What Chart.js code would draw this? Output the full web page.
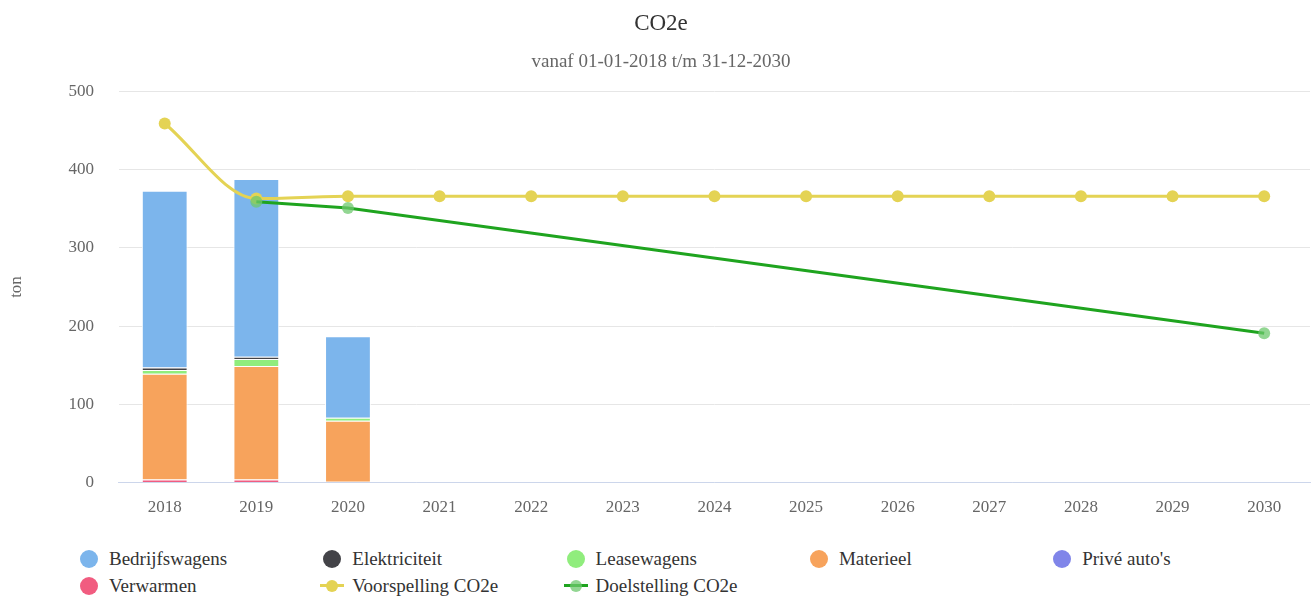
<!DOCTYPE html>
<html lang="nl">
<head>
<meta charset="UTF-8">
<title>CO2e</title>
<script src="https://cdn.jsdelivr.net/npm/chart.js"></script>
<style>
    body { margin: 0; background: #fff; overflow: hidden; font-family: "Liberation Serif", serif; }
    #wrap { position: relative; width: 1316px; height: 530px; }
    #legend { position: absolute; left: 0; top: 540px; width: 1311px; height: 58px; }
    .item { position: absolute; display: flex; align-items: center; font-size: 19px; color: #333; white-space: nowrap; height: 24px; }
    .sym { position: relative; width: 24px; height: 24px; margin-right: 8px; }
    .dot { position: absolute; left: 3px; top: 3px; width: 18px; height: 18px; border-radius: 50%; }
    .ln { position: absolute; left: 0; top: 10px; width: 24px; height: 3px; }
    .ldot { position: absolute; left: 6px; top: 6px; width: 12px; height: 12px; border-radius: 50%; }
</style>
</head>
<body>
<div id="wrap"><canvas id="co2Chart"></canvas></div>
<div id="legend"></div>

<script>
    // categorieen
    const jaren = ['2018', '2019', '2020', '2021', '2022', '2023', '2024', '2025', '2026', '2027', '2028', '2029', '2030'];

    // gestapelde kolommen (ton)
    const bedrijfswagens = [226, 227, 104];
    const elektriciteit = [3, 3, 0];
    const leasewagens = [5, 9, 4];
    const materieel = [135, 145, 78];
    const priveAutos = [0, 0, 0];
    const verwarmen = [4, 4, 1];

    // lijnen (ton)
    const voorspelling = [459, 363, 366, 366, 366, 366, 366, 366, 366, 366, 366, 366, 366];
    const doelstelling = [null, 359, 351, null, null, null, null, null, null, null, null, null, 191];

    const yTicks = [0, 100, 200, 300, 400, 500];

    const FONT = '"Liberation Serif", "Times New Roman", serif';

    const kleuren = {
        bedrijfswagens: '#7cb5ec',
        elektriciteit: '#434348',
        leasewagens: '#90ed7d',
        materieel: '#f7a35c',
        prive: '#8085e9',
        verwarmen: '#f15c80',
        voorspelling: '#e4d354',
        doelLijn: '#1fa41f',
        doelPunt: 'rgba(110, 200, 110, 0.75)'
    };

    function staaf(label, data, kleur) {
        return {
            type: 'bar', label: label, data: data,
            backgroundColor: kleur, borderColor: '#ffffff', borderWidth: 1,
            categoryPercentage: 1, barPercentage: 0.5, order: 2
        };
    }

    // volgorde van onder naar boven in de stapel
    const datasets = [
        staaf('Verwarmen', verwarmen, kleuren.verwarmen),
        staaf("Privé auto's", priveAutos, kleuren.prive),
        staaf('Materieel', materieel, kleuren.materieel),
        staaf('Leasewagens', leasewagens, kleuren.leasewagens),
        staaf('Elektriciteit', elektriciteit, kleuren.elektriciteit),
        staaf('Bedrijfswagens', bedrijfswagens, kleuren.bedrijfswagens),
        {
            type: 'line', label: 'Voorspelling CO2e', data: voorspelling, stack: 'voorspelling',
            borderColor: kleuren.voorspelling, borderWidth: 3, backgroundColor: kleuren.voorspelling,
            pointBackgroundColor: kleuren.voorspelling, pointBorderWidth: 0, pointRadius: 6,
            cubicInterpolationMode: 'monotone', fill: false, order: 1
        },
        {
            type: 'line', label: 'Doelstelling CO2e', data: doelstelling, stack: 'doel',
            borderColor: kleuren.doelLijn, borderWidth: 3, backgroundColor: kleuren.doelPunt,
            pointBackgroundColor: kleuren.doelPunt, pointBorderWidth: 0, pointRadius: 6,
            tension: 0, spanGaps: true, fill: false, order: 0
        }
    ];

    const ctx = document.getElementById('co2Chart').getContext('2d');
    const chart = new Chart(ctx, {
        data: { labels: jaren, datasets: datasets },
        options: {
            responsive: true,
            maintainAspectRatio: false,
            animation: false,
            layout: { padding: { left: 6, right: 0, top: 0, bottom: 5 } },
            plugins: {
                legend: { display: false },
                tooltip: { enabled: false },
                title: {
                    display: true, text: 'CO2e', color: '#333333',
                    font: { family: FONT, size: 23, weight: 'normal' },
                    padding: { top: 10, bottom: 13 }
                },
                subtitle: {
                    display: true, text: 'vanaf 01-01-2018 t/m 31-12-2030', color: '#666666',
                    font: { family: FONT, size: 19, weight: 'normal' },
                    padding: { top: 0, bottom: 18 }
                }
            },
            scales: {
                x: {
                    stacked: true,
                    grid: { display: false },
                    border: { color: '#ccd6eb', width: 1 },
                    ticks: { color: '#666666', font: { family: FONT, size: 17 }, padding: 7 }
                },
                y: {
                    stacked: true,
                    min: 0, max: 500,
                    afterBuildTicks: (scale) => { scale.ticks = yTicks.map(v => ({ value: v })); },
                    grid: { color: '#e6e6e6', drawTicks: false },
                    border: { display: false },
                    ticks: { color: '#666666', font: { family: FONT, size: 17 }, padding: 25 },
                    title: {
                        display: true, text: 'ton', color: '#666666',
                        font: { family: FONT, size: 17 },
                        padding: { top: 0, bottom: 17 }
                    }
                }
            }
        }
    });

    // legenda in vaste kolommen, zoals het origineel
    const legendaVolgorde = ['Bedrijfswagens', 'Elektriciteit', 'Leasewagens', 'Materieel', "Privé auto's",
        'Verwarmen', 'Voorspelling CO2e', 'Doelstelling CO2e'];
    const legend = document.getElementById('legend');
    legendaVolgorde.forEach((naam, i) => {
        const ds = chart.data.datasets.find(d => d.label === naam);
        const kol = i % 5, rij = Math.floor(i / 5);
        const item = document.createElement('div');
        item.className = 'item';
        item.style.left = (89 + kol * 243.3 - 12) + 'px';
        item.style.top = (19 - 12 + rij * 27) + 'px';
        const sym = document.createElement('div');
        sym.className = 'sym';
        if (ds.type === 'line') {
            sym.innerHTML = '<div class="ln" style="background:' + ds.borderColor + '"></div>' +
                '<div class="ldot" style="background:' + ds.pointBackgroundColor + '"></div>';
        } else {
            sym.innerHTML = '<div class="dot" style="background:' + ds.backgroundColor + '"></div>';
        }
        const txt = document.createElement('span');
        txt.textContent = naam;
        item.appendChild(sym);
        item.appendChild(txt);
        legend.appendChild(item);
    });
</script>
</body>
</html>
